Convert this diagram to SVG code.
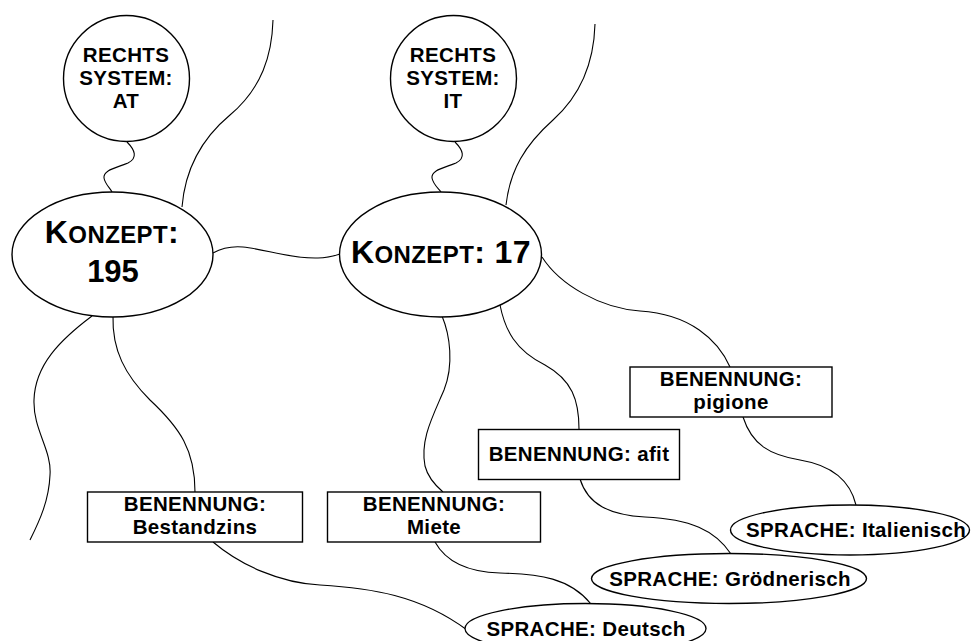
<svg xmlns="http://www.w3.org/2000/svg" width="971" height="641" viewBox="0 0 971 641">
  <style>
    .wire { fill: none; stroke: #000; stroke-width: 1.1; }
    .shape { fill: #fff; stroke: #000; stroke-width: 1.4; }
    text { font-family: "Liberation Sans", Arial, sans-serif; font-weight: bold; fill: #000; text-anchor: middle; }
    .small { font-size: 20.5px; letter-spacing: 0.35px; }
    .big { font-size: 32px; letter-spacing: 0.4px; }
    .sc { font-size: 24px; }
    .num { font-size: 31px; }
  </style>
  <rect width="971" height="641" fill="#fff"/>

  <g id="connectors">
    <path class="wire" d="M127,142 C135,150 138,158 128,163 C116,168 103,170 104,178 C105,184 110,188 112,192"/>
    <path class="wire" d="M182,207 C185,170 200,140 230,115 C262,88 272,55 273,20"/>
    <path class="wire" d="M213,253 C222,248 232,246 243,247 C265,249 290,259 318,258 C328,258 334,256 340,254"/>
    <path class="wire" d="M455,142 C463,150 466,158 456,163 C444,168 431,170 432,178 C433,184 438,188 441,192"/>
    <path class="wire" d="M506,205 C510,170 525,145 553,120 C582,94 594,60 595,24"/>
    <path class="wire" d="M542,257 C560,285 600,308 640,311 C690,314 718,340 730,367"/>
    <path class="wire" d="M743,417 C752,445 770,455 800,460 C830,465 850,480 856,505"/>
    <path class="wire" d="M500,305 C505,330 515,350 545,365 C572,380 579,400 579,429"/>
    <path class="wire" d="M580,479 C588,505 610,515 645,517 C690,519 715,530 731,554"/>
    <path class="wire" d="M442,316 C450,335 454,365 444,390 C432,418 420,440 425,466 C428,478 436,486 443,492"/>
    <path class="wire" d="M435,542 C445,560 465,572 500,573 C540,574 570,578 591,604"/>
    <path class="wire" d="M113,316 C112,350 125,375 150,400 C180,428 195,450 195,492"/>
    <path class="wire" d="M213,542 C240,565 280,583 320,585 C370,588 420,595 467,630"/>
    <path class="wire" d="M92,316 C60,340 35,365 34,400 C33,430 52,450 50,475 C49,500 40,520 30,540"/>
  </g>

  <g id="rechtssystem-at">
    <circle class="shape" cx="126.5" cy="78.5" r="63"/>
    <text class="small" x="126" y="62">RECHTS</text>
    <text class="small" x="126" y="85">SYSTEM:</text>
    <text class="small" x="126" y="108">AT</text>
  </g>

  <g id="rechtssystem-it">
    <circle class="shape" cx="453.5" cy="78.5" r="63"/>
    <text class="small" x="453" y="62">RECHTS</text>
    <text class="small" x="453" y="85">SYSTEM:</text>
    <text class="small" x="453" y="108">IT</text>
  </g>

  <g id="konzept-195">
    <ellipse class="shape" cx="112.5" cy="254.5" rx="100.5" ry="62.5"/>
    <text class="big" x="112" y="243"><tspan>K</tspan><tspan class="sc">ONZEPT</tspan>:</text>
    <text class="num" x="113" y="282">195</text>
  </g>

  <g id="konzept-17">
    <ellipse class="shape" cx="440.5" cy="254.5" rx="101" ry="62.5"/>
    <text class="big" x="441" y="263"><tspan>K</tspan><tspan class="sc">ONZEPT</tspan>: 17</text>
  </g>

  <g id="benennung-bestandzins">
    <rect class="shape" x="87.5" y="492" width="215" height="50"/>
    <text class="small" x="195" y="511">BENENNUNG:</text>
    <text class="small" x="195" y="534">Bestandzins</text>
  </g>

  <g id="benennung-miete">
    <rect class="shape" x="327.5" y="492" width="213" height="50"/>
    <text class="small" x="434" y="511">BENENNUNG:</text>
    <text class="small" x="434" y="534">Miete</text>
  </g>

  <g id="benennung-afit">
    <rect class="shape" x="478.5" y="429.5" width="201" height="50"/>
    <text class="small" x="579" y="461">BENENNUNG: afit</text>
  </g>

  <g id="benennung-pigione">
    <rect class="shape" x="630" y="367" width="202" height="50"/>
    <text class="small" x="731" y="386">BENENNUNG:</text>
    <text class="small" x="731" y="409">pigione</text>
  </g>

  <g id="sprache-italienisch">
    <ellipse class="shape" cx="850" cy="530" rx="119.5" ry="25"/>
    <text class="small" x="856" y="537">SPRACHE: Italienisch</text>
  </g>

  <g id="sprache-groednerisch">
    <ellipse class="shape" cx="729" cy="578.5" rx="137.5" ry="25"/>
    <text class="small" x="730" y="586">SPRACHE: Grödnerisch</text>
  </g>

  <g id="sprache-deutsch">
    <ellipse class="shape" cx="585.5" cy="628.5" rx="120.5" ry="25"/>
    <text class="small" x="586" y="636">SPRACHE: Deutsch</text>
  </g>
</svg>
